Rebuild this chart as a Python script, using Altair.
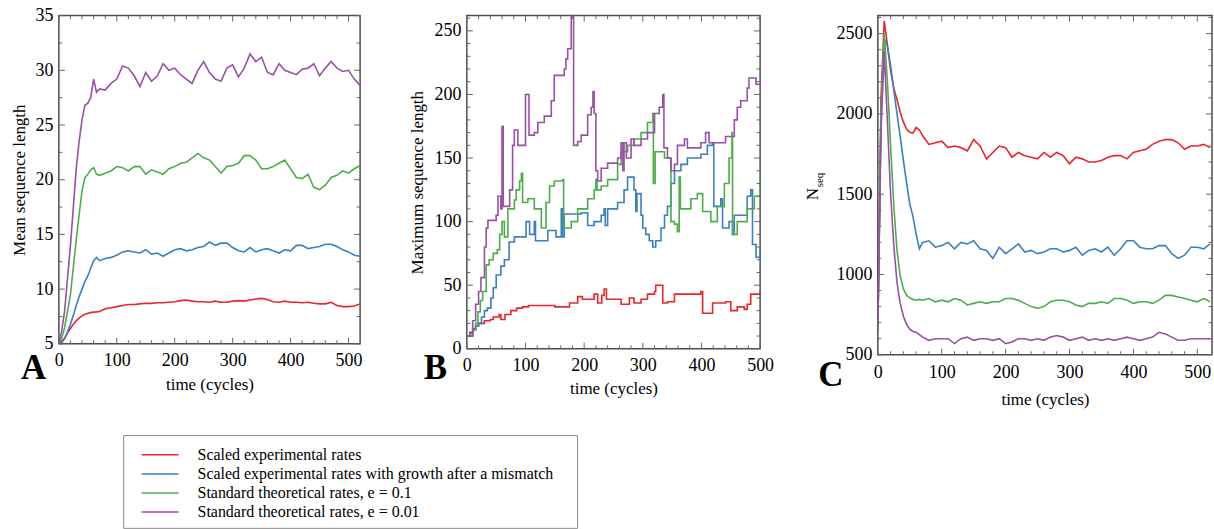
import altair as alt
import pandas as pd

FONT = "Liberation Serif"
LABEL_SIZE = 18
TITLE_SIZE = 17
FRAME = "#4d4d4d"
TICK = "#666666"

SERIES = [
    "Scaled experimental rates",
    "Scaled experimental rates with growth after a mismatch",
    "Standard theoretical rates, e = 0.1",
    "Standard theoretical rates, e = 0.01",
]
COLORS = ["#e8262b", "#3b7fc1", "#4cad4a", "#9a4fa8"]

# ---------------- time grid for panels A and C ----------------
T_AC = [0, 5, 10, 15, 20, 25, 30, 35, 40, 45, 50, 55, 60, 65, 70,
        80, 90, 100, 110, 120, 130, 140, 150, 160, 170,
        180, 190, 200, 210, 220, 230, 240, 250, 260, 270,
        280, 290, 300, 310, 320, 330, 340, 350, 360, 370,
        380, 390, 400, 410, 420, 430, 440, 450, 460, 470,
        480, 490, 500, 510, 520]

# ---------------- Panel A: mean sequence length ----------------
A_RED = [5.0, 5.1, 5.5, 6.0, 6.4, 6.8, 7.1, 7.35, 7.55, 7.7, 7.8, 7.85, 7.9, 7.92, 7.95,
         8.2, 8.3, 8.4, 8.5, 8.6, 8.6, 8.65, 8.7, 8.7, 8.75,
         8.75, 8.8, 8.85, 8.95, 9.0, 8.9, 8.85, 8.85, 8.8, 8.9,
         8.8, 8.8, 8.9, 8.95, 8.9, 9.0, 9.1, 9.15, 9.05, 8.85,
         8.8, 8.9, 8.8, 8.8, 8.75, 8.8, 8.7, 8.65, 8.65, 8.8,
         8.5, 8.4, 8.4, 8.45, 8.65]
A_BLUE = [5.0, 5.2, 5.5, 6.1, 6.8, 7.6, 8.5, 9.3, 10.0, 10.7, 11.2, 11.9, 12.6, 12.9, 12.6,
          12.8, 12.9, 13.1, 13.4, 13.5, 13.4, 13.3, 13.6, 13.2, 13.3,
          13.0, 13.3, 13.6, 13.7, 13.5, 13.6, 13.8, 13.9, 14.3, 14.0,
          14.2, 14.2, 13.8, 13.5, 13.4, 13.8, 13.4, 13.6, 13.7, 13.5,
          13.3, 13.6, 13.5, 14.0, 14.0, 13.7, 13.8, 13.9, 14.1, 14.1,
          13.9, 13.6, 13.4, 13.1, 13.0]
A_GREEN = [5.0, 5.5, 6.5, 8.0, 9.5, 12.0, 14.5, 16.8, 19.0, 20.2, 20.5, 20.9, 21.1, 20.5, 20.4,
           20.6, 20.8, 21.2, 21.1, 20.8, 21.2, 21.2, 20.5, 20.9, 20.7,
           20.5, 21.0, 21.2, 21.5, 21.6, 22.0, 22.4, 22.0, 21.8, 21.2,
           20.6, 21.2, 21.3, 21.5, 22.2, 22.2, 21.8, 21.0, 21.0, 21.2,
           21.5, 21.8, 21.0, 20.2, 20.1, 20.5, 19.3, 19.1, 19.5, 20.2,
           20.4, 20.8, 20.6, 21.0, 21.3]
A_PURPLE = [5.0, 6.2, 8.0, 11.0, 14.0, 17.5, 21.0, 23.5, 25.5, 26.8, 27.0, 27.5, 29.2, 28.0, 28.3,
            28.2, 28.8, 29.2, 30.4, 30.2, 29.5, 28.5, 29.8, 29.0, 29.5,
            30.6, 30.0, 30.2, 29.6, 29.2, 28.8, 30.0, 30.8, 29.8, 29.2,
            29.0, 30.2, 30.5, 29.4, 30.2, 31.5, 30.8, 31.2, 29.8, 29.6,
            30.6, 30.0, 29.8, 29.6, 30.1, 30.2, 30.6, 29.5, 30.2, 30.8,
            30.2, 29.9, 30.0, 29.2, 28.6]

# ---------------- Panel C: number of sequences ----------------
C_RED = [650, 2100, 2580, 2430, 2270, 2160, 2090, 2010, 1950, 1905, 1885, 1880, 1915, 1900, 1865,
         1810, 1820, 1830, 1790, 1800, 1790, 1770, 1840, 1800, 1720,
         1760, 1800, 1790, 1730, 1760, 1740, 1730, 1720, 1760, 1730,
         1760, 1740, 1690, 1730, 1720, 1700, 1700, 1710, 1730, 1740,
         1740, 1720, 1760, 1770, 1780, 1810, 1830, 1840, 1840, 1820,
         1780, 1800, 1800, 1810, 1790]
C_BLUE = [650, 2000, 2470, 2420, 2300, 2150, 2000, 1860, 1710, 1570, 1440, 1360, 1250, 1160, 1200,
          1210, 1170, 1180, 1200, 1160, 1200, 1190, 1210, 1160, 1150,
          1100, 1170, 1130, 1160, 1190, 1140, 1150, 1130, 1140, 1160,
          1160, 1140, 1150, 1170, 1120, 1150, 1160, 1140, 1170, 1120,
          1160, 1210, 1210, 1170, 1160, 1160, 1180, 1180, 1130, 1100,
          1120, 1170, 1170, 1160, 1190]
C_GREEN = [650, 2000, 2500, 2200, 1800, 1430, 1150, 990, 910, 870, 855, 845, 840, 845, 840,
           850, 830, 840, 830, 850, 840, 810, 820, 830, 820,
           830, 830, 850, 850, 840, 820, 800, 790, 800, 830,
           840, 840, 830, 810, 800, 820, 820, 830, 820, 850,
           850, 840, 820, 830, 830, 820, 840, 870, 870, 860,
           850, 840, 830, 850, 830]
C_PURPLE = [650, 1900, 2390, 1950, 1500, 1180, 950, 820, 740, 690, 660, 645, 640, 625, 610,
            590, 600, 600, 600, 570, 600, 610, 590, 600, 600,
            590, 600, 570, 580, 600, 600, 590, 600, 590, 610,
            620, 610, 590, 600, 610, 590, 600, 590, 600, 590,
            600, 610, 600, 590, 600, 610, 640, 630, 610, 590,
            590, 600, 600, 600, 600]

# ---------------- Panel B: maximum sequence length (steps) ----------------
B_RED_T = [0, 5, 10, 15, 20, 30, 40, 45, 55, 58, 65, 75, 85, 95, 105, 150, 172, 175, 189, 197,
           217, 223, 230, 234, 238, 257, 263, 277, 285, 297, 308, 320, 322, 334, 342, 354,
           399, 402, 419, 441, 450, 461, 473, 478, 484, 500]
B_RED_V = [10, 13, 16, 18, 20, 22, 23, 25, 27, 23, 27, 30, 32, 33, 34, 33, 33, 36, 41, 39,
           43, 36, 42, 47, 39, 39, 35, 40, 36, 39, 43, 45, 50, 36, 37, 43,
           45, 28, 36, 37, 30, 33, 31, 35, 43, 46]
B_BLUE_T = [0, 5, 10, 15, 20, 25, 30, 35, 41, 45, 50, 58, 64, 72, 81, 92, 101, 107, 115, 117,
            127, 138, 152, 161, 163, 166, 169, 195, 206, 217, 229, 234, 236, 240, 257, 268,
            274, 285, 288, 290, 297, 300, 305, 311, 317, 322, 331, 337, 342, 348, 354, 365,
            376, 399, 410, 419, 421, 433, 436, 447, 453, 456, 461, 478, 484, 487, 493, 500]
B_BLUE_V = [10, 12, 15, 18, 20, 25, 30, 32, 40, 48, 58, 65, 70, 84, 88, 88, 100, 90, 100, 85,
            85, 93, 88, 110, 88, 106, 106, 107, 97, 100, 105, 110, 97, 110, 115, 125,
            135, 125, 108, 122, 105, 95, 90, 85, 80, 85, 95, 105, 112, 130, 140, 145,
            150, 153, 160, 162, 112, 118, 95, 100, 90, 105, 105, 120, 125, 82, 72, 78]
B_GREEN_T = [0, 10, 15, 19, 23, 27, 33, 38, 45, 52, 56, 60, 64, 70, 81, 84, 90, 93, 95, 104,
             115, 127, 135, 141, 149, 163, 165, 178, 189, 206, 217, 220, 222, 229, 240, 257,
             263, 274, 285, 297, 308, 317, 318, 321, 337, 348, 354, 359, 362, 364, 382, 393,
             402, 416, 427, 439, 447, 452, 453, 461, 478, 490, 500]
B_GREEN_V = [10, 15, 20, 29, 38, 45, 66, 70, 75, 78, 90, 100, 88, 110, 117, 125, 132, 138, 115, 118,
             110, 95, 115, 128, 132, 133, 95, 100, 110, 118, 125, 133, 125, 128, 133, 145,
             155, 160, 165, 170, 178, 185, 130, 155, 150, 100, 98, 92, 135, 110, 118, 122,
             108, 100, 112, 130, 150, 170, 90, 100, 110, 120, 135]
B_PURPLE_T = [0, 10, 15, 20, 24, 30, 33, 36, 50, 53, 58, 60, 62, 64, 73, 78, 81, 87, 98, 100,
              106, 115, 121, 132, 144, 149, 166, 169, 172, 178, 182, 189, 195, 206, 212, 215,
              217, 220, 223, 229, 240, 257, 263, 266, 268, 272, 274, 280, 285, 297, 308, 320,
              328, 334, 336, 342, 348, 354, 359, 371, 376, 388, 399, 407, 413, 433, 441, 456,
              461, 467, 478, 481, 493, 500]
B_PURPLE_V = [10, 22, 35, 45, 56, 80, 95, 101, 105, 120, 110, 175, 112, 112, 125, 160, 172, 160, 160, 200,
              168, 170, 178, 183, 195, 215, 220, 228, 236, 270, 160, 163, 168, 184, 190, 202,
              185, 140, 132, 142, 146, 150, 162, 140, 162, 150, 150, 165, 160, 165, 170, 185,
              190, 200, 158, 150, 140, 145, 160, 165, 158, 158, 162, 170, 162, 162, 167, 180,
              190, 195, 205, 213, 208, 207]

# ---------------- ticks ----------------
X_MAJOR = [0, 100, 200, 300, 400, 500]
X_MINOR = [20, 40, 60, 80, 120, 140, 160, 180, 220, 240, 260, 280, 320, 340, 360, 380,
           420, 440, 460, 480]
A_Y_MAJOR = [5, 10, 15, 20, 25, 30, 35]
A_Y_MINOR = [7.5, 12.5, 17.5, 22.5, 27.5, 32.5]
B_Y_MAJOR = [0, 50, 100, 150, 200, 250]
B_Y_MINOR = [10, 20, 30, 40, 60, 70, 80, 90, 110, 120, 130, 140, 160, 170, 180, 190,
             210, 220, 230, 240, 260]
C_Y_MAJOR = [500, 1000, 1500, 2000, 2500]
C_Y_MINOR = [600, 700, 800, 900, 1100, 1200, 1300, 1400, 1600, 1700, 1800, 1900,
             2100, 2200, 2300, 2400, 2600]

COLOR = alt.Color("series:N", scale=alt.Scale(domain=SERIES, range=COLORS), legend=None)


def make_df(t_lists, v_lists):
    rows = []
    for s, ts, vs in zip(SERIES, t_lists, v_lists):
        for t, v in zip(ts, vs):
            rows.append({"t": t, "v": v, "series": s})
    return pd.DataFrame(rows)


def tick_layer(vals, orient, length, w, h):
    # tick positions use the same field names (t / v) as the lines so the
    # shared scale and the single axis merge cleanly
    if orient in ("bottom", "top"):
        base = alt.Chart(pd.DataFrame({"t": vals})).mark_rule(color=TICK, strokeWidth=1)
        pos = alt.X("t:Q")
        if orient == "bottom":
            return base.encode(x=pos, y=alt.value(h), y2=alt.value(h - length))
        return base.encode(x=pos, y=alt.value(0), y2=alt.value(length))
    base = alt.Chart(pd.DataFrame({"v": vals})).mark_rule(color=TICK, strokeWidth=1)
    pos = alt.Y("v:Q")
    if orient == "left":
        return base.encode(y=pos, x=alt.value(0), x2=alt.value(length))
    return base.encode(y=pos, x=alt.value(w), x2=alt.value(w - length))


def text_layer(txt, x, y, size, weight="normal", angle=0):
    return alt.Chart(pd.DataFrame({"lab": [txt]})).mark_text(
        font=FONT, fontSize=size, fontWeight=weight, align="center",
        baseline="alphabetic" if angle == 0 else "middle", angle=angle, color="black"
    ).encode(x=alt.value(x), y=alt.value(y), text="lab:N")


def panel_layers(df, w, h, xdom, ydom, ymaj, ymin, ytitle, ytitle_x, xtitle_y,
                 xlabel_pad, interp, letter, lx, ly):
    xaxis = alt.Axis(values=X_MAJOR, ticks=False, domain=False, grid=False, format="d",
                     labelFont=FONT, labelFontSize=LABEL_SIZE, labelColor="black",
                     labelPadding=xlabel_pad, labelFlush=False, labelOverlap=False,
                     title="time (cycles)", titleFont=FONT, titleFontSize=TITLE_SIZE,
                     titleFontWeight="normal", titleColor="black",
                     titleX=w / 2, titleY=xtitle_y, titleBaseline="middle")
    yaxis = alt.Axis(values=ymaj, ticks=False, domain=False, grid=False, format="d",
                     labelFont=FONT, labelFontSize=LABEL_SIZE, labelColor="black",
                     labelPadding=6, labelOverlap=False,
                     title=ytitle, titleFont=FONT, titleFontSize=TITLE_SIZE,
                     titleFontWeight="normal", titleColor="black",
                     titleX=ytitle_x, titleY=h / 2, titleBaseline="middle")
    lines = alt.Chart(df).mark_line(strokeWidth=1.6, interpolate=interp, clip=True).encode(
        x=alt.X("t:Q", scale=alt.Scale(domain=xdom, nice=False, zero=False), axis=xaxis),
        y=alt.Y("v:Q", scale=alt.Scale(domain=ydom, nice=False, zero=False), axis=yaxis),
        color=COLOR,
    )
    layers = [lines]
    for vals, ln in ((X_MAJOR, 6), (X_MINOR, 3.5)):
        layers += [tick_layer(vals, "bottom", ln, w, h), tick_layer(vals, "top", ln, w, h)]
    for vals, ln in ((ymaj, 6), (ymin, 3.5)):
        layers += [tick_layer(vals, "left", ln, w, h), tick_layer(vals, "right", ln, w, h)]
    layers.append(text_layer(letter, lx, ly, 35, weight="bold"))
    return layers


VIEW = alt.ViewBackground(stroke=FRAME, strokeWidth=1.5)

# Panel A (with the legend placed below it)
A_W, A_H = 302, 329
a_df = make_df([T_AC] * 4, [A_RED, A_BLUE, A_GREEN, A_PURPLE])
a_core = alt.layer(*panel_layers(a_df, A_W, A_H, [0, 520], [5, 35], A_Y_MAJOR, A_Y_MINOR,
                                 "Mean sequence length", -39.8, 41, 8, "linear",
                                 "A", -25.3, 364))

leg_df = pd.DataFrame({"series": SERIES, "row": list(range(len(SERIES)))})
leg_y = alt.Y("row:Q", scale=alt.Scale(domain=[0, 3], range=[440.3, 497.7]), axis=None)
leg_box = alt.Chart(pd.DataFrame({"k": [0]})).mark_rect(
    fill="white", stroke="#8c8c8c", strokeWidth=1
).encode(x=alt.value(65), x2=alt.value(520), y=alt.value(421), y2=alt.value(514))
leg_rules = alt.Chart(leg_df).mark_rule(strokeWidth=1.5).encode(
    x=alt.value(83), x2=alt.value(120), y=leg_y, color=COLOR)
leg_text = alt.Chart(leg_df).mark_text(
    align="left", baseline="middle", font=FONT, fontSize=16, color="black"
).encode(x=alt.value(139), y=leg_y, text="series:N")
legend = alt.layer(leg_box, leg_rules, leg_text)

panel_a = alt.layer(a_core, legend).resolve_scale(y="independent").properties(
    width=A_W, height=A_H, view=VIEW)

# Panel B
B_W, B_H = 294, 334
b_df = make_df([B_RED_T, B_BLUE_T, B_GREEN_T, B_PURPLE_T],
               [B_RED_V, B_BLUE_V, B_GREEN_V, B_PURPLE_V])
panel_b = alt.layer(*panel_layers(b_df, B_W, B_H, [0, 500], [0, 262], B_Y_MAJOR, B_Y_MINOR,
                                  "Maximum sequence length", -49.3, 39.5, 8, "step-after",
                                  "B", -31.5, 364)).properties(width=B_W, height=B_H, view=VIEW)

# Panel C
C_W, C_H = 335, 340
c_df = make_df([T_AC] * 4, [C_RED, C_BLUE, C_GREEN, C_PURPLE])
c_layers = panel_layers(c_df, C_W, C_H, [0, 523], [500, 2612], C_Y_MAJOR, C_Y_MINOR,
                        "", -60, 45, 9, "linear", "C", -47, 371)
c_layers.append(text_layer("N", -64.7, 179, 17, angle=270))
c_layers.append(text_layer("seq", -58, 164.8, 11, angle=270))
panel_c = alt.layer(*c_layers).properties(width=C_W, height=C_H, view=VIEW)


def spacer(w):
    return alt.Chart(pd.DataFrame({"k": [0]})).mark_point(opacity=0).properties(width=w, height=10)


chart = alt.hconcat(panel_a, spacer(107), panel_b, spacer(118), panel_c,
                    spacing=0, bounds="flush").properties(
    padding={"left": 9, "top": 5, "right": 0, "bottom": 0}
).configure_view(strokeWidth=0)

chart.save("out.html", embed_options={"renderer": "svg", "actions": False})
